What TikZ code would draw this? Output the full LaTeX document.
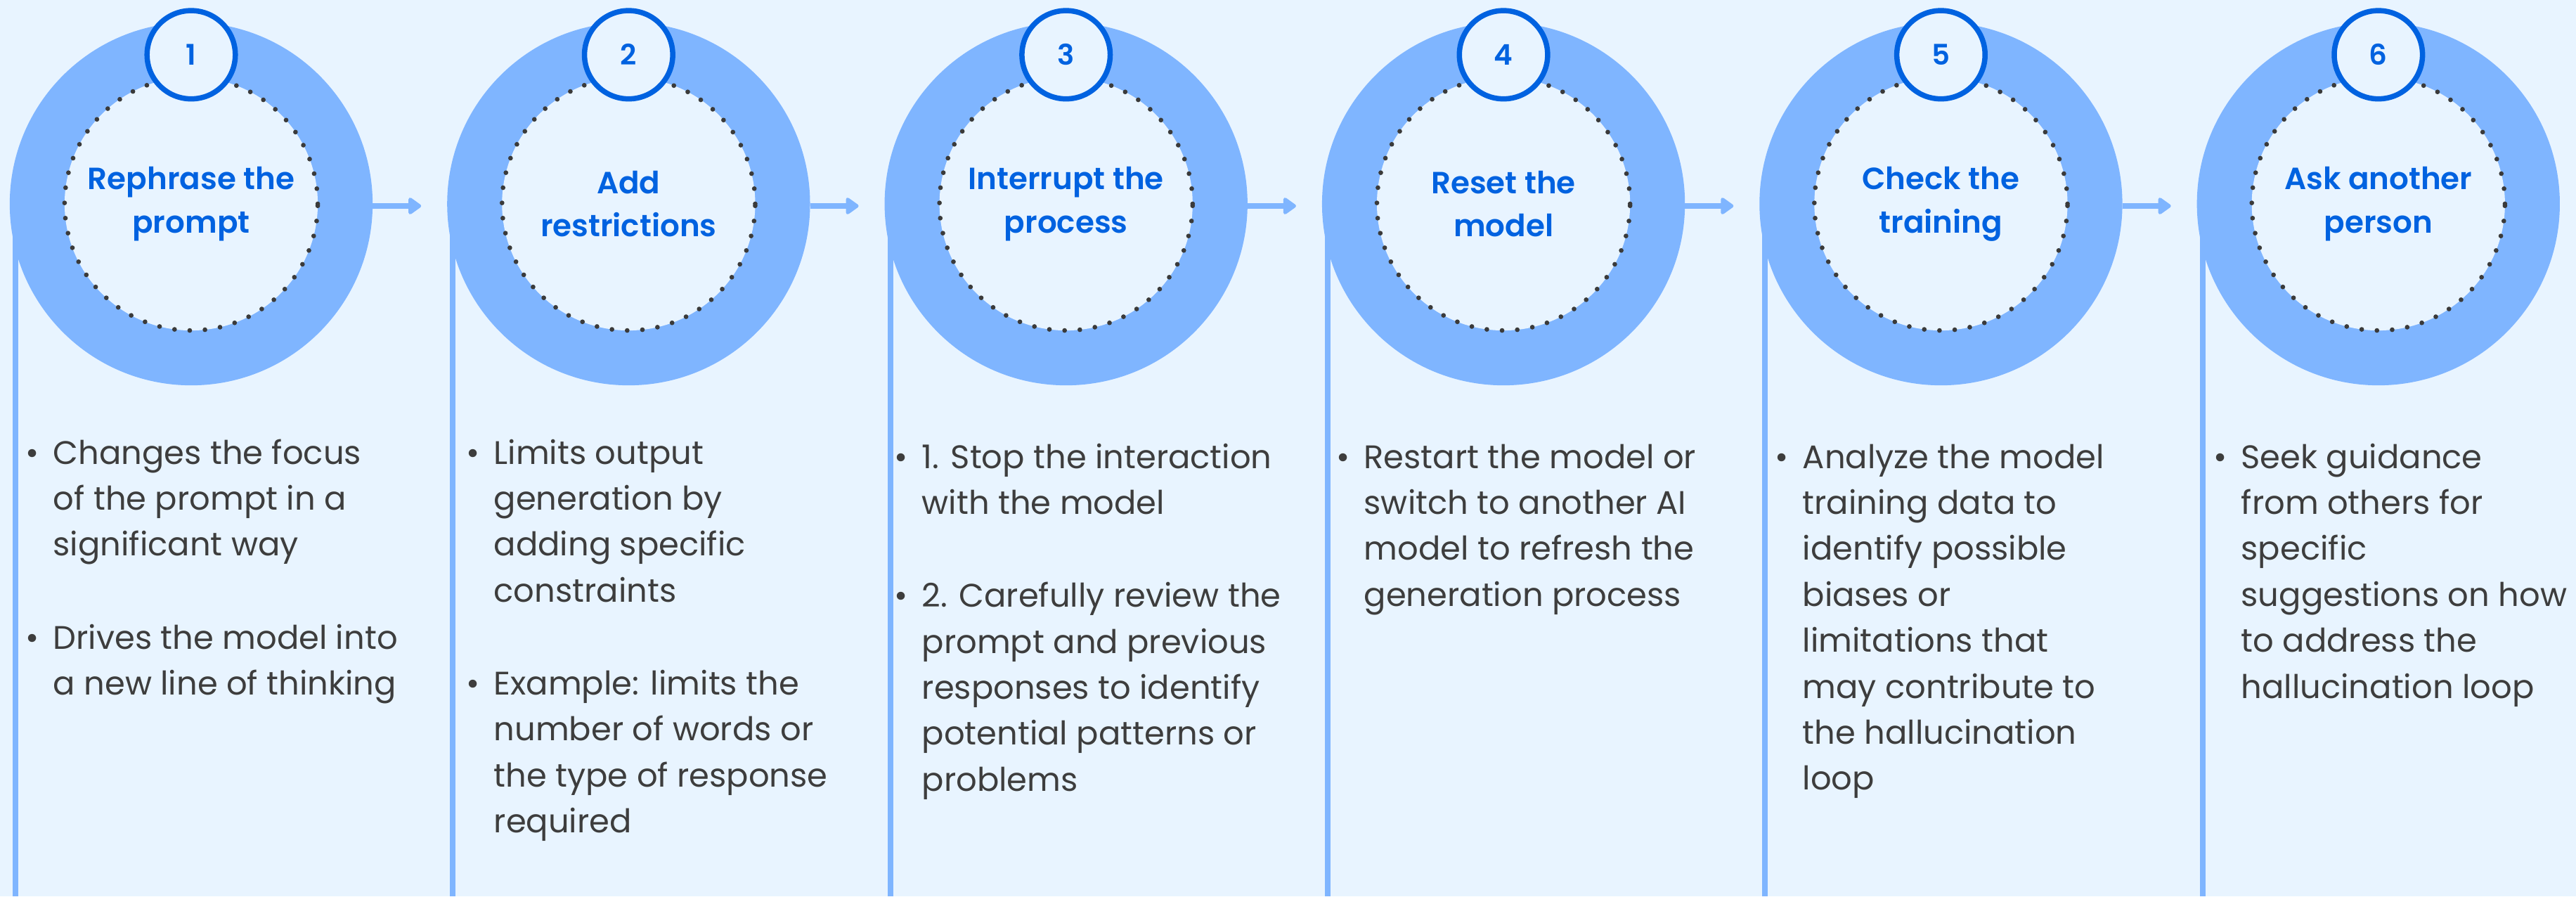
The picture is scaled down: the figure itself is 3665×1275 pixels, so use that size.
\documentclass[tikz,border=0pt]{standalone}
\usepackage{fontspec}
\setmainfont{Poppins}[BoldFont={Poppins SemiBold}]
\usepackage{tikz}
\usetikzlibrary{positioning, arrows.meta, backgrounds}
\usepackage{xcolor}

\definecolor{paleblue}{HTML}{E8F4FF}
\definecolor{ringblue}{HTML}{7FB5FF}
\definecolor{deepblue}{HTML}{0062E0}
\definecolor{inkgray}{HTML}{3D3D3D}
\definecolor{dotgray}{HTML}{3A3A3A}

\newcommand{\bul}{\makebox[0.6cm][c]{\textbullet}}

\begin{document}
\begin{tikzpicture}[
    x=0.01cm, y=-0.01cm,
    node distance=1.06cm,
    ring/.style={circle, fill=ringblue, minimum size=5.16cm, inner sep=0pt, outer sep=0pt},
    core/.style={circle, fill=paleblue, draw=dotgray, line width=0.067cm, dash pattern=on 0pt off 0.217cm, line cap=round, minimum size=3.6cm, inner sep=0pt},
    badge/.style={circle, fill=paleblue, draw=deepblue, line width=0.075cm, minimum size=1.255cm, inner sep=0pt, text=deepblue, font=\fontsize{11.5}{13}\selectfont\bfseries},
    title/.style={align=center, text=deepblue, font=\fontsize{12.4}{17.6}\selectfont\bfseries},
    desc/.style={anchor=base west, inner sep=0pt, text=inkgray, font=\fontsize{13.2}{18.6}\selectfont},
    flow/.style={-{Triangle[length=0.2cm, width=0.27cm, round]}, draw=ringblue, fill=ringblue, line width=0.075cm},
    stem/.style={draw=ringblue, line width=0.08cm},
]
\useasboundingbox (0,0) rectangle (3665,1275);
\coordinate (floor) at (0,1275);

% ── Rings ──
\node[ring] (r1) at (272,290) {};
\node[ring, right=of r1] (r2) {};
\node[ring, right=of r2] (r3) {};
\node[ring, right=of r3] (r4) {};
\node[ring, right=of r4] (r5) {};
\node[ring, right=of r5] (r6) {};

% ── Background and stems ──
\begin{scope}[on background layer]
\fill[paleblue] (0,0) rectangle (3665,1275);
\draw[stem] ([xshift=0.08cm]r1.west) -- ([xshift=0.08cm]r1.west |- floor);
\draw[stem] ([xshift=0.08cm]r2.west) -- ([xshift=0.08cm]r2.west |- floor);
\draw[stem] ([xshift=0.08cm]r3.west) -- ([xshift=0.08cm]r3.west |- floor);
\draw[stem] ([xshift=0.08cm]r4.west) -- ([xshift=0.08cm]r4.west |- floor);
\draw[stem] ([xshift=0.08cm]r5.west) -- ([xshift=0.08cm]r5.west |- floor);
\draw[stem] ([xshift=0.08cm]r6.west) -- ([xshift=0.08cm]r6.west |- floor);
\end{scope}

% ── Dotted cores ──
\node[core] (c1) at (r1) {};
\node[core] (c2) at (r2) {};
\node[core] (c3) at (r3) {};
\node[core] (c4) at (r4) {};
\node[core] (c5) at (r5) {};
\node[core] (c6) at (r6) {};

% ── Titles ──
\node[title] (t1) at (r1) {Rephrase the\\prompt};
\node[title] (t2) at (r2) {Add\\restrictions};
\node[title] (t3) at (r3) {Interrupt the\\process};
\node[title] (t4) at (r4) {Reset the\\model};
\node[title] (t5) at (r5) {Check the\\training};
\node[title] (t6) at (r6) {Ask another\\person};

% ── Number badges ──
\node[badge, at=(r1.center), yshift=2.12cm] (b1) {1};
\node[badge, at=(r2.center), yshift=2.12cm] (b2) {2};
\node[badge, at=(r3.center), yshift=2.12cm] (b3) {3};
\node[badge, at=(r4.center), yshift=2.12cm] (b4) {4};
\node[badge, at=(r5.center), yshift=2.12cm] (b5) {5};
\node[badge, at=(r6.center), yshift=2.12cm] (b6) {6};

% ── Arrows ──
\draw[flow] ([yshift=-0.03cm]r1.east) -- ([yshift=-0.03cm, xshift=-0.37cm]r2.west);
\draw[flow] ([yshift=-0.03cm]r2.east) -- ([yshift=-0.03cm, xshift=-0.37cm]r3.west);
\draw[flow] ([yshift=-0.03cm]r3.east) -- ([yshift=-0.03cm, xshift=-0.37cm]r4.west);
\draw[flow] ([yshift=-0.03cm]r4.east) -- ([yshift=-0.03cm, xshift=-0.37cm]r5.west);
\draw[flow] ([yshift=-0.03cm]r5.east) -- ([yshift=-0.03cm, xshift=-0.37cm]r6.west);

% ── Descriptions ──
\node[desc] (d1) at (15,660) {\begin{tabular}[t]{@{}l@{}l@{}}
\bul & Changes the focus\\
     & of the prompt in a\\
     & significant way\\[19pt]
\bul & Drives the model into\\
     & a new line of thinking
\end{tabular}};
\node[desc] (d2) at (642,660) {\begin{tabular}[t]{@{}l@{}l@{}}
\bul & Limits output\\
     & generation by\\
     & adding specific\\
     & constraints\\[19pt]
\bul & Example: limits the\\
     & number of words or\\
     & the type of response\\
     & required
\end{tabular}};
\node[desc] (d3) at (1251,666) {\begin{tabular}[t]{@{}l@{}l@{}}
\bul & 1. Stop the interaction\\
     & with the model\\[19pt]
\bul & 2. Carefully review the\\
     & prompt and previous\\
     & responses to identify\\
     & potential patterns or\\
     & problems
\end{tabular}};
\node[desc] (d4) at (1880,666) {\begin{tabular}[t]{@{}l@{}l@{}}
\bul & Restart the model or\\
     & switch to another AI\\
     & model to refresh the\\
     & generation process
\end{tabular}};
\node[desc] (d5) at (2504,666) {\begin{tabular}[t]{@{}l@{}l@{}}
\bul & Analyze the model\\
     & training data to\\
     & identify possible\\
     & biases or\\
     & limitations that\\
     & may contribute to\\
     & the hallucination\\
     & loop
\end{tabular}};
\node[desc] (d6) at (3128,666) {\begin{tabular}[t]{@{}l@{}l@{}}
\bul & Seek guidance\\
     & from others for\\
     & specific\\
     & suggestions on how\\
     & to address the\\
     & hallucination loop
\end{tabular}};

\end{tikzpicture}
\end{document}
